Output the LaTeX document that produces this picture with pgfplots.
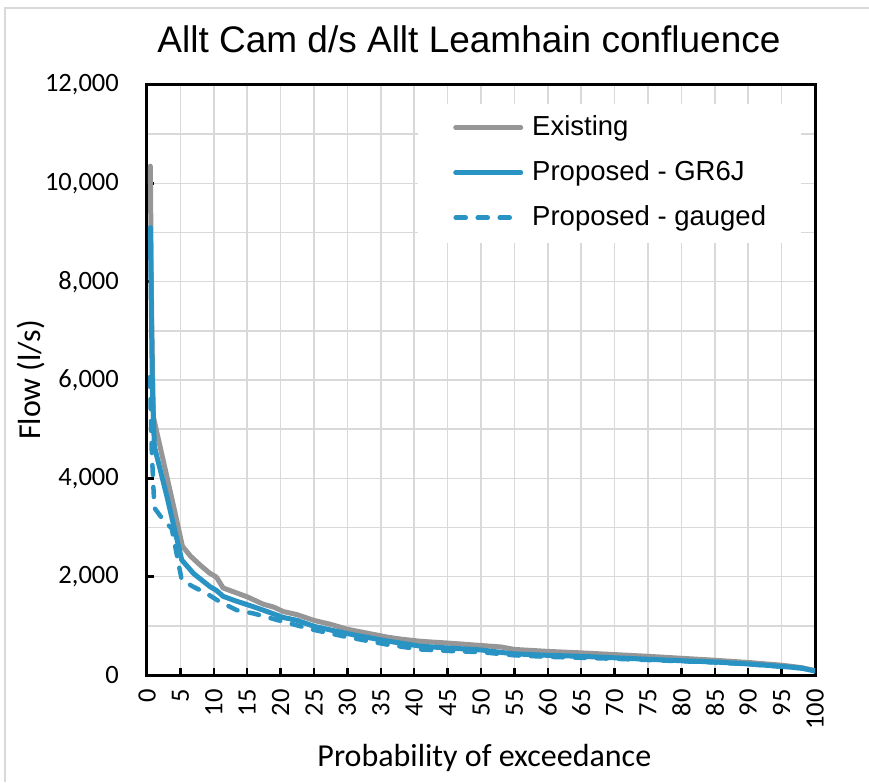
\documentclass[border=0pt]{standalone}
\usepackage{fontspec}
\setmainfont{Liberation Sans}
\newfontfamily\carlito{Carlito}
\usepackage{pgfplots}
\pgfplotsset{compat=1.18}
\definecolor{existc}{RGB}{150,150,150}
\definecolor{propc}{RGB}{41,147,196}
\definecolor{gridc}{RGB}{217,217,217}

\begin{document}
\begin{tikzpicture}
\path[use as bounding box] (-147pt,-107pt) rectangle (722pt,675pt);
\draw[gridc, line width=1.2pt] (-142pt,-107pt) -- (-142pt,667pt) -- (722pt,667pt);
\begin{axis}[
  at={(0pt,0pt)}, anchor=south west,
  scale only axis, width=668pt, height=590pt,
  xmin=0, xmax=100, ymin=0, ymax=12000,
  xtick distance=5, ytick distance=2000, minor y tick num=1,
  xmajorgrids, ymajorgrids, yminorgrids,
  grid style={gridc, line width=1.5pt},
  minor grid style={gridc, line width=1.5pt},
  axis line style={black, line width=3pt},
  tick style={black, line width=2.5pt},
  tick align=inside, major tick length=7pt, minor tick length=0pt,
  xtick pos=bottom, ytick pos=left,
  scaled y ticks=false,
  /pgf/number format/assume math mode=true,
  /pgf/number format/1000 sep={,},
  tick label style={font=\carlito\fontsize{26.5}{28}\selectfont, inner sep=0pt},
  xticklabel style={rotate=90, anchor=east},
  yticklabel style={anchor=east},
  xticklabel shift=14pt, yticklabel shift=28pt,
  title={Allt Cam d/s Allt Leamhain confluence},
  title style={at={(axis description cs:0.482,1.068)}, anchor=center,
    font=\fontsize{37}{40}\selectfont, inner sep=0pt},
  xlabel={Probability of exceedance},
  ylabel={Flow (l/s)},
  every axis x label/.style={at={(axis description cs:0.505,-0.141)}, anchor=center,
    font=\carlito\fontsize{32}{34}\selectfont, inner sep=0pt},
  every axis y label/.style={at={(axis description cs:-0.174,0.5)}, rotate=90, anchor=center,
    font=\carlito\fontsize{32}{34}\selectfont, inner sep=0pt},
  legend image code/.code={\draw[#1] (0pt,1pt) -- (65pt,1pt);},
  legend style={at={(axis description cs:0.4057,0.9678)}, anchor=north west,
    draw=none, fill=white, inner xsep=35pt, inner ysep=11pt, row sep=18pt,
    font=\fontsize{27.5}{30}\selectfont,
    nodes={inner sep=0pt, text height=20pt, text depth=7pt},
    /tikz/every odd column/.append style={column sep=9pt}},
  legend cell align=left,
]
\addplot[existc, line width=5pt, line join=round, line cap=round] coordinates {
(0.5,10350) (0.7,7200) (0.95,5250) (2,4620) (3,4020) (4,3420) (5.3,2620)
(6.5,2420) (8,2230) (9.4,2070) (10.4,1990) (11.4,1770) (13,1690) (15,1590)
(17.4,1440) (19,1380) (20.4,1290) (22.4,1230) (25,1110) (27.5,1030) (30,930)
(33,850) (36,770) (38,730) (41,685) (45,650) (50,600) (53,570) (55,520)
(60,480) (65,450) (70,415) (75,380) (80,340) (85,300) (90,255) (95,200)
(98,150) (100,90)
};
\addlegendentry{Existing}
\addplot[propc, line width=5pt, line join=round, line cap=round] coordinates {
(0.5,9100) (0.8,5900) (1.1,4650) (3,3620) (5.2,2340) (7,2060) (9.4,1800)
(10.4,1720) (11.4,1600) (13,1520) (15.9,1390) (18,1290) (20.4,1170)
(22.5,1110) (25,990) (28,900) (31,815) (36,690) (41,585) (45,550) (50,510)
(53,460) (55,430) (60,400) (65,380) (70,350) (75,320) (80,290) (85,265)
(90,225) (95,175) (98,140) (100,80)
};
\addlegendentry{Proposed - GR6J}
\addplot[propc, line width=4.5pt, line join=round, line cap=round, dash pattern=on 10pt off 12pt] coordinates {
(0.45,6060) (0.7,4600) (1.1,3400) (2.45,3150) (3.7,2980) (5.2,1930) (7,1790)
(8.9,1660) (10.9,1490) (13.4,1320) (16,1250) (20.4,1085) (24.9,920) (30,770)
(35.9,620) (40.9,520) (45,490) (50,465) (55,400) (60,370) (65,350) (70,330)
(75,305) (80,280) (85,255) (90,220) (95,170) (98,135) (100,80)
};
\addlegendentry{Proposed - gauged}
\end{axis}
\end{tikzpicture}
\end{document}
